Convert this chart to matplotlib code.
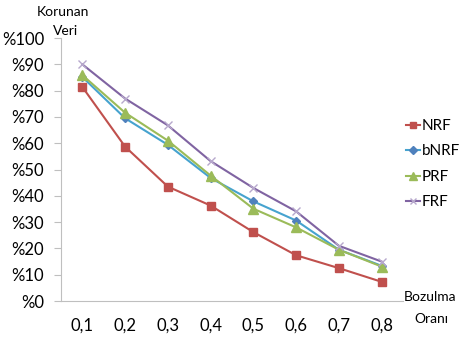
import numpy as np
import matplotlib.pyplot as plt

# values (percent)
oranlar = ["0,1", "0,2", "0,3", "0,4", "0,5", "0,6", "0,7", "0,8"]
nrf = [81.4, 58.7, 43.5, 36.3, 26.2, 17.4, 12.5, 7.3]
bnrf = [85.2, 69.5, 59.4, 46.8, 37.9, 30.6, 19.5, 13.4]
prf = [85.9, 71.6, 61.0, 47.7, 35.1, 28.0, 19.5, 13.1]
frf = [90.0, 77.0, 66.8, 53.2, 43.0, 34.1, 21.0, 15.0]
y_ticks = list(range(0, 101, 10))

plt.rcParams['font.family'] = ['Lato', 'DejaVu Sans']

fig = plt.figure(figsize=(4.61, 3.43), dpi=100)
ax = fig.add_axes([0.1323, 0.1224, 0.8742 - 0.1323, 0.889 - 0.1224])

x = np.arange(len(oranlar))
ax.plot(x, nrf, '-s', color='#C0504D', mfc='#C0504D', mec='#C0504D', ms=6, lw=1.5, label="NRF")
ax.plot(x, bnrf, '-D', color='#46A3CF', mfc='#4F81BD', mec='#4F81BD', ms=4.5, lw=1.5, label="bNRF")
ax.plot(x, prf, '-^', color='#9BBB59', mfc='#9BBB59', mec='#9BBB59', ms=6.5, lw=1.5, label="PRF")
ax.plot(x, frf, '-x', color='#8064A2', mfc='#B7A8CC', mec='#B7A8CC', ms=6, mew=1, lw=1.5, label="FRF")

ax.set_xlim(-0.5, len(oranlar) - 0.5)
ax.set_ylim(0, 100)
ax.set_xticks(x)
ax.set_xticklabels(oranlar, fontsize=12)
ax.set_yticks(y_ticks)
ax.set_yticklabels(["%" + str(v) for v in y_ticks], fontsize=12)
ax.tick_params(axis='x', length=0, pad=12)
ax.tick_params(axis='y', length=5, color='#BFBFBF', pad=7)

for side in ['top', 'right']:
    ax.spines[side].set_visible(False)
for side in ['left', 'bottom']:
    ax.spines[side].set_color('#BFBFBF')

fig.text(63 / 461, 1 - 12 / 343, "Korunan", fontsize=10, ha='center', va='center')
fig.text(66 / 461, 1 - 31 / 343, "Veri", fontsize=10, ha='center', va='center')
fig.text(404 / 461, 1 - 297 / 343, "Bozulma", fontsize=10, ha='left', va='center')
fig.text(431 / 461, 1 - 319 / 343, "Oranı", fontsize=10, ha='center', va='center')

fig.legend(loc='upper left', bbox_to_anchor=(406 / 461, 1 - 119 / 343), frameon=False,
           fontsize=11, handlelength=0.9, handletextpad=0.15, labelspacing=0.75,
           borderaxespad=0, borderpad=0, markerscale=0.8)

fig.savefig("out.png", dpi=100)
